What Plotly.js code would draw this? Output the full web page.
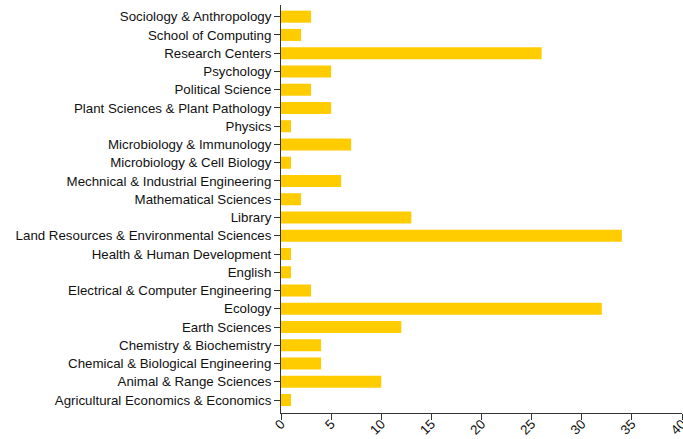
<!DOCTYPE html>
<html>
<head>
<meta charset="utf-8">
<script src="https://cdn.plot.ly/plotly-3.0.1.min.js"></script>
<style>html,body{margin:0;padding:0;background:#fff;}#chart{width:683px;height:439px;}</style>
</head>
<body>
<div id="chart"></div>
<script>
const categories = [
  "Agricultural Economics & Economics",
  "Animal & Range Sciences",
  "Chemical & Biological Engineering",
  "Chemistry & Biochemistry",
  "Earth Sciences",
  "Ecology",
  "Electrical & Computer Engineering",
  "English",
  "Health & Human Development",
  "Land Resources & Environmental Sciences",
  "Library",
  "Mathematical Sciences",
  "Mechnical & Industrial Engineering",
  "Microbiology & Cell Biology",
  "Microbiology & Immunology",
  "Physics",
  "Plant Sciences & Plant Pathology",
  "Political Science",
  "Psychology",
  "Research Centers",
  "School of Computing",
  "Sociology & Anthropology"
];
const counts = [1, 10, 4, 4, 12, 32, 3, 1, 1, 34, 13, 2, 6, 1, 7, 1, 5, 3, 5, 26, 2, 3];
const xTicks = [0, 5, 10, 15, 20, 25, 30, 35, 40];

const trace = {
  type: "bar",
  orientation: "h",
  y: categories,
  x: counts,
  marker: {color: "#FFCC00", line: {width: 0}},
  hoverinfo: "none"
};

const font = {family: "Liberation Sans, Arial, Helvetica, sans-serif", size: 13.3, color: "#111"};

const layout = {
  width: 683,
  height: 439,
  margin: {l: 281, r: 1, t: 5, b: 26, pad: 0},
  paper_bgcolor: "#fff",
  plot_bgcolor: "#fff",
  showlegend: false,
  bargap: 0.34,
  font: font,
  xaxis: {
    range: [0, 40],
    tickvals: xTicks,
    ticktext: xTicks.map(String),
    tickangle: -45,
    ticks: "outside",
    ticklen: 6,
    tickwidth: 1,
    tickcolor: "#333",
    showline: true,
    linecolor: "#333",
    linewidth: 1,
    showgrid: false,
    zeroline: false,
    tickfont: font,
    ticklabelstandoff: -9,
    ticklabeloverflow: "allow",
    fixedrange: true
  },
  yaxis: {
    type: "category",
    categoryorder: "array",
    categoryarray: categories,
    range: [-0.71, 21.64],
    ticks: "outside",
    ticklen: 6,
    tickwidth: 1,
    tickcolor: "#333",
    showline: true,
    linecolor: "#333",
    linewidth: 1,
    showgrid: false,
    zeroline: false,
    tickfont: font,
    fixedrange: true
  }
};

Plotly.newPlot("chart", [trace], layout, {staticPlot: true, displayModeBar: false});
</script>
</body>
</html>
